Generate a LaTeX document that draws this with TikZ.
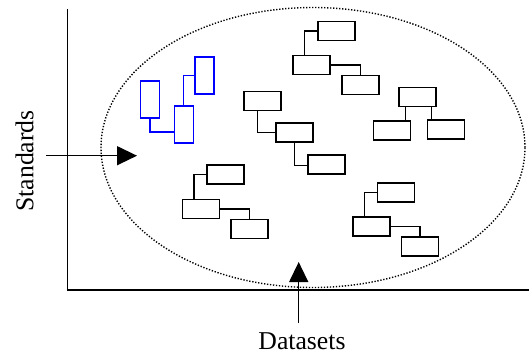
\documentclass[tikz,border=0pt]{standalone}
\usepackage{fontspec}
\setmainfont{Liberation Serif}
\usetikzlibrary{arrows.meta,shapes.geometric}
\begin{document}
\begin{tikzpicture}[x=1pt,y=-1pt,
  box/.style={draw=black,line width=1.5pt,minimum width=37pt,minimum height=19pt,inner sep=0pt,rectangle},
  bluebox/.style={draw=blue,line width=1.5pt,minimum width=19pt,minimum height=37pt,inner sep=0pt,rectangle},
  link/.style={line width=1.4pt},
  bluelink/.style={line width=1.4pt,draw=blue},
  axis/.style={line width=1.6pt},
  pointer/.style={line width=1.4pt,-{Triangle[length=20pt,width=19pt]}},
  label/.style={inner sep=0pt,font=\fontsize{25.7}{30}\selectfont}]
\useasboundingbox (0,0) rectangle (529,354);

% axes
\coordinate (origin) at (67.5,290);
\coordinate (ytop) at (67.5,9);
\coordinate (xend) at (529,290);
\draw[axis] (ytop) -- (origin) -- (xend);

% dotted region
\node[ellipse,draw,line width=1.4pt,dash pattern=on 1.3pt off 1.7pt,
  minimum width=424pt,minimum height=280pt,inner sep=0pt] (region) at (313,147.5) {};

% blue cluster
\node[bluebox] (b1) at (150,99.5) {};
\node[bluebox] (b2) at (184,124.5) {};
\node[bluebox] (b3) at (204.5,75.5) {};
\draw[bluelink] (b1.south) |- ([yshift=-7.5pt]b2.west);
\draw[bluelink] ([xshift=-0.7pt]b2.north) |- (b3.west);

% middle cluster
\node[box] (m1) at (262.5,101) {};
\node[box] (m2) at (294.5,132.5) {};
\node[box] (m3) at (326.5,164.5) {};
\draw[link] ([xshift=-5pt]m1.south) |- (m2.west);
\draw[link] (m2.south) |- ([yshift=-1pt]m3.west);

% top cluster
\node[box] (t1) at (336.5,31) {};
\node[box] (t2) at (311.5,65) {};
\node[box] (t3) at (360.5,85) {};
\draw[link] ([xshift=-7pt]t2.north) |- (t1.west);
\draw[link] (t2.east) -| (t3.north);

% right cluster
\node[box] (r1) at (417.5,97) {};
\node[box] (r2) at (392,130.5) {};
\node[box] (r3) at (446,129.5) {};
\draw[link] ([xshift=-12pt]r1.south) -- ([xshift=-12pt]r1.south |- r2.north);
\draw[link] ([xshift=14pt]r1.south) -- ([xshift=14pt]r1.south |- r3.north);

% lower-left cluster
\node[box] (l1) at (225.5,174.5) {};
\node[box] (l2) at (201,209) {};
\node[box] (l3) at (249.5,229) {};
\draw[link] ([xshift=-7pt]l2.north) |- (l1.west);
\draw[link] (l2.east) -| (l3.north);

% lower-right cluster
\node[box] (d1) at (396,192.5) {};
\node[box] (d2) at (371.5,226.5) {};
\node[box] (d3) at (420,246.5) {};
\draw[link] ([xshift=-7pt]d2.north) |- (d1.west);
\draw[link] (d2.east) -| (d3.north);

% axis pointers
\coordinate (stdtail) at (46,155.7);
\coordinate (stdtip) at (137,155.7);
\draw[pointer] (stdtail) -- (stdtip);
\coordinate (dattail) at (298.7,323);
\coordinate (dattip) at (298.7,262);
\draw[pointer] (dattail) -- (dattip);

% axis labels
\node[label,rotate=90] (stdlabel) at (24.5,161) {Standards};
\node[label] (datlabel) at (302,341.5) {Datasets};
\end{tikzpicture}
\end{document}
